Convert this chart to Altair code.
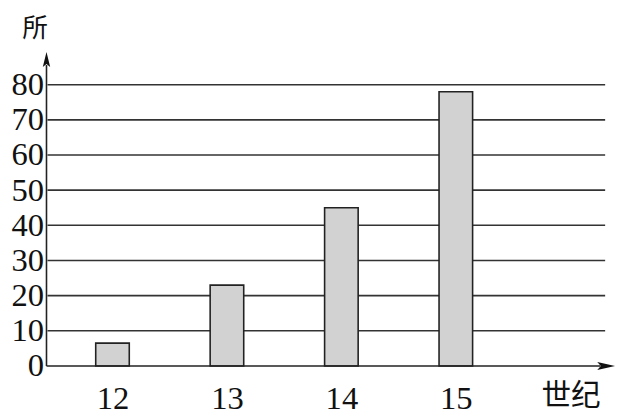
import altair as alt
import pandas as pd

centuries = [12, 13, 14, 15]
counts = [6.5, 23, 45, 78]
grid_values = [10, 20, 30, 40, 50, 60, 70, 80]
y_ticks = [0, 10, 20, 30, 40, 50, 60, 70, 80]
x_ticks = [12, 13, 14, 15]

bars_df = pd.DataFrame({"century": centuries, "count": counts})
grid_df = pd.DataFrame({"v": grid_values})
one = pd.DataFrame({"a": [0]})

W, H = 575, 323
xs = alt.Scale(domain=[11.475, 11.475 + W / 118.0], nice=False, zero=False)
ys = alt.Scale(domain=[0, H / 3.5625], nice=False, zero=True)

num_font = "Liberation Serif"
cjk_font = "Noto Sans CJK SC"

x_axis = alt.Axis(values=x_ticks, grid=False, domain=False, ticks=False,
                  labelFont=num_font, labelFontSize=33, labelColor="#111",
                  labelPadding=17, title="世纪", titleFont=cjk_font,
                  titleFontSize=30, titleFontWeight="normal", titleColor="#111",
                  titleX=530, titleY=30, titleAlign="center",
                  titleBaseline="middle", titleAngle=0)
y_axis = alt.Axis(values=y_ticks, grid=False, domain=False, ticks=False,
                  labelFont=num_font, labelFontSize=33, labelColor="#111",
                  labelPadding=4, title="所", titleFont=cjk_font,
                  titleFontSize=26, titleFontWeight="normal", titleColor="#111",
                  titleX=-13, titleY=-19, titleAlign="center",
                  titleBaseline="middle", titleAngle=0)

grid = alt.Chart(grid_df).mark_rule(color="#333", strokeWidth=1.6).encode(
    y=alt.Y("v:Q", scale=ys, axis=y_axis),
    x=alt.value(0), x2=alt.value(565))

bars = alt.Chart(bars_df).mark_bar(size=34, fill="#d2d2d2", stroke="#222",
                                   strokeWidth=1.6).encode(
    x=alt.X("century:Q", scale=xs, axis=x_axis),
    y=alt.Y("count:Q", scale=ys))

yline = alt.Chart(one).mark_rule(color="#222", strokeWidth=1.6).encode(
    x=alt.value(-1), y=alt.value(18), y2=alt.value(H))
xline = alt.Chart(one).mark_rule(color="#222", strokeWidth=1.6).encode(
    y=alt.value(H), x=alt.value(-1), x2=alt.value(560))

up_arrow = alt.Chart(one).mark_point(
    shape="M0,-1L-0.5,1L0,0.6L0.5,1Z", size=225, filled=True,
    fill="#111", stroke=None, opacity=1).encode(
    x=alt.value(-1), y=alt.value(12.5))
right_arrow = alt.Chart(one).mark_point(
    shape="M1,0L-1,-0.45L-0.6,0L-1,0.45Z", size=324, filled=True,
    fill="#111", stroke=None, opacity=1).encode(
    x=alt.value(566), y=alt.value(H))

chart = alt.layer(grid, bars, yline, xline, up_arrow, right_arrow).properties(
    width=W, height=H,
    autosize=alt.AutoSizeParams(type="none"),
    padding={"left": 40, "top": 37, "right": 1, "bottom": 48},
    background="white",
).configure_view(stroke=None)

chart.save("out.html", embed_options={"renderer": "svg", "actions": False})
